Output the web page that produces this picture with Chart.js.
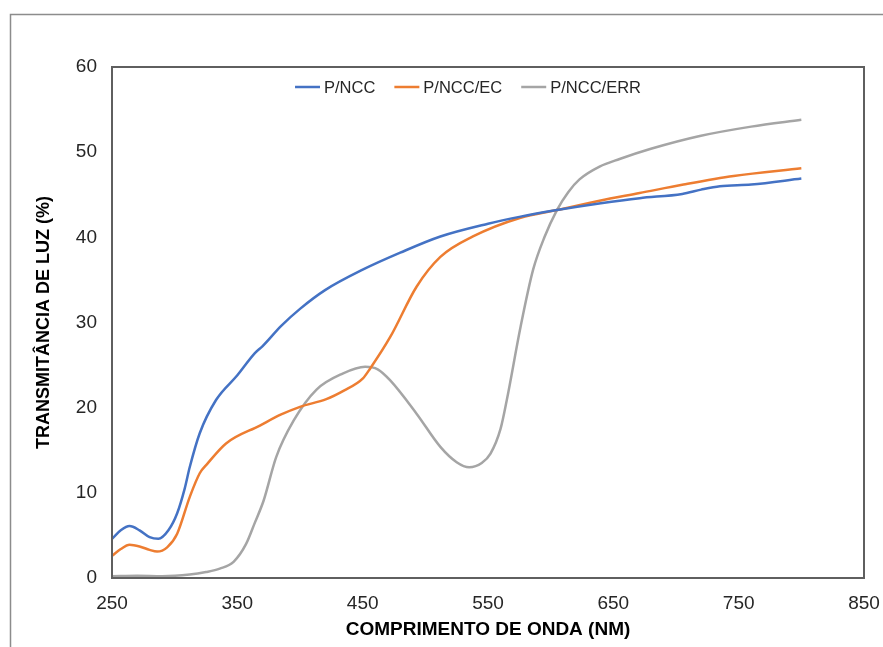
<!DOCTYPE html>
<html>
<head>
<meta charset="utf-8">
<script src="https://cdn.jsdelivr.net/npm/chart.js@4/dist/chart.umd.min.js"></script>
<style>
html,body{margin:0;padding:0;background:#fff;}
#wrap{width:883px;height:647px;position:relative;}
</style>
</head>
<body>
<div id="wrap"><canvas id="c" width="883" height="647"></canvas></div>
<script>
// Wavelength (nm) sample points per series and transmittance (%) values
const seriesNames = ['P/NCC', 'P/NCC/EC', 'P/NCC/ERR'];

const nccX = [250,257,264,272,280,287,295,302,308,312,320,333,350,364,370,385,400,420,450,480,512,550,575,605,640,671,705,720,735,760,800];
const nccY = [4.6,5.6,6.1,5.6,4.8,4.6,5.6,7.6,10.5,13.0,17.0,20.9,23.8,26.4,27.2,29.6,31.6,33.8,36.2,38.2,40.1,41.6,42.4,43.2,44.0,44.6,45.1,45.6,46.0,46.2,46.9];

const ecX = [250,257,264,272,280,286,294,302,312,320,326,341,368,385,400,421,435,450,456,472,493,512,538,576,605,639,671,706,746,800];
const ecY = [2.6,3.4,3.9,3.7,3.3,3.1,3.6,5.2,9.5,12.3,13.4,15.8,17.9,19.2,20.1,21.0,22.0,23.4,24.6,28.3,34.2,37.7,40.1,42.3,43.2,44.3,45.2,46.2,47.2,48.1];

const errX = [250,270,290,312,325,336,347,357,364,371,381,395,413,434,452,462,472,493,512,525,535,545,552,560,565,576,586,595,605,614,623,639,655,680,719,760,800];
const errY = [0.2,0.25,0.2,0.4,0.7,1.1,1.9,4.0,6.5,9.1,14.2,18.5,22.1,24.0,24.8,24.5,23.2,19.3,15.4,13.6,13.0,13.5,14.6,17.5,20.9,29.5,36.2,40.0,43.2,45.3,46.8,48.3,49.2,50.4,51.9,53.0,53.8];

const xTicks = [250,350,450,550,650,750,850];
const yTicks = [0,10,20,30,40,50,60];
const xTitle = 'COMPRIMENTO DE ONDA (NM)';
const yTitle = 'TRANSMITÂNCIA DE LUZ (%)';

const colors = ['#4472C4','#ED7D31','#A5A5A5'];

function pts(xs, ys){ return xs.map((x,i)=>({x:x, y:ys[i]})); }

const frame = {
  id:'frame',
  beforeDraw(chart){
    const ctx = chart.ctx;
    ctx.save();
    ctx.fillStyle = '#fff';
    ctx.fillRect(0,0,chart.width,chart.height);
    ctx.strokeStyle = '#8c8c8c';
    ctx.lineWidth = 1.5;
    ctx.beginPath();
    ctx.moveTo(10.5, chart.height);
    ctx.lineTo(10.5, 14.5);
    ctx.lineTo(chart.width, 14.5);
    ctx.stroke();
    ctx.restore();
  },
  afterDraw(chart){
    const ctx = chart.ctx;
    const a = chart.chartArea;
    ctx.save();
    ctx.strokeStyle = '#5f5f5f';
    ctx.lineWidth = 2;
    ctx.strokeRect(a.left, a.top, a.right - a.left, a.bottom - a.top);
    // legend inside plot
    ctx.font = '16.5px "Liberation Sans", Arial, sans-serif';
    ctx.textBaseline = 'middle';
    ctx.textAlign = 'left';
    const lineLen = 25, gapLine = 4, gapItem = 19;
    const items = chart.data.datasets.map(d => ({label:d.label, color:d.borderColor, w: lineLen + gapLine + ctx.measureText(d.label).width}));
    const total = items.reduce((s,i)=>s+i.w,0) + gapItem*(items.length-1);
    let x = (a.left + a.right)/2 - 20 - total/2;
    const y = a.top + 20;
    items.forEach(it => {
      ctx.strokeStyle = it.color;
      ctx.lineWidth = 2.5;
      ctx.beginPath();
      ctx.moveTo(x, y); ctx.lineTo(x+lineLen, y); ctx.stroke();
      ctx.fillStyle = '#262626';
      ctx.fillText(it.label, x + lineLen + gapLine, y + 1);
      x += it.w + gapItem;
    });
    ctx.restore();
  }
};

const font = '"Liberation Sans", Arial, sans-serif';

new Chart(document.getElementById('c'), {
  type:'line',
  data:{
    datasets:[
      {label:seriesNames[0], data:pts(nccX,nccY), borderColor:colors[0], backgroundColor:colors[0]},
      {label:seriesNames[1], data:pts(ecX,ecY), borderColor:colors[1], backgroundColor:colors[1]},
      {label:seriesNames[2], data:pts(errX,errY), borderColor:colors[2], backgroundColor:colors[2]}
    ]
  },
  options:{
    responsive:false,
    animation:false,
    elements:{
      line:{borderWidth:2.5, cubicInterpolationMode:'monotone', fill:false},
      point:{radius:0, hoverRadius:0}
    },
    layout:{padding:{left:0, top:67, right:19, bottom:0}},
    plugins:{legend:{display:false}, tooltip:{enabled:false}},
    scales:{
      x:{
        type:'linear', min:250, max:850,
        afterBuildTicks(s){ s.ticks = xTicks.map(v=>({value:v})); },
        afterFit(s){ s.height = 69; s.paddingLeft = 0; s.paddingRight = 0; },
        grid:{display:false, drawTicks:false}, border:{display:false},
        ticks:{color:'#262626', font:{family:font, size:19}, padding:14, maxRotation:0},
        title:{display:true, text:xTitle, color:'#000', font:{family:font, size:19, weight:'bold'}, padding:{top:6,bottom:6}}
      },
      y:{
        type:'linear', min:0, max:60,
        afterBuildTicks(s){ s.ticks = yTicks.map(v=>({value:v})); },
        afterFit(s){ s.width = 112; s.paddingTop = 0; s.paddingBottom = 0; },
        grid:{display:false, drawTicks:false}, border:{display:false},
        ticks:{color:'#262626', font:{family:font, size:19}, padding:15},
        title:{display:true, text:yTitle, color:'#000', font:{family:font, size:18, weight:'bold'}, padding:{top:33,bottom:33}}
      }
    }
  },
  plugins:[frame]
});
</script>
</body>
</html>
